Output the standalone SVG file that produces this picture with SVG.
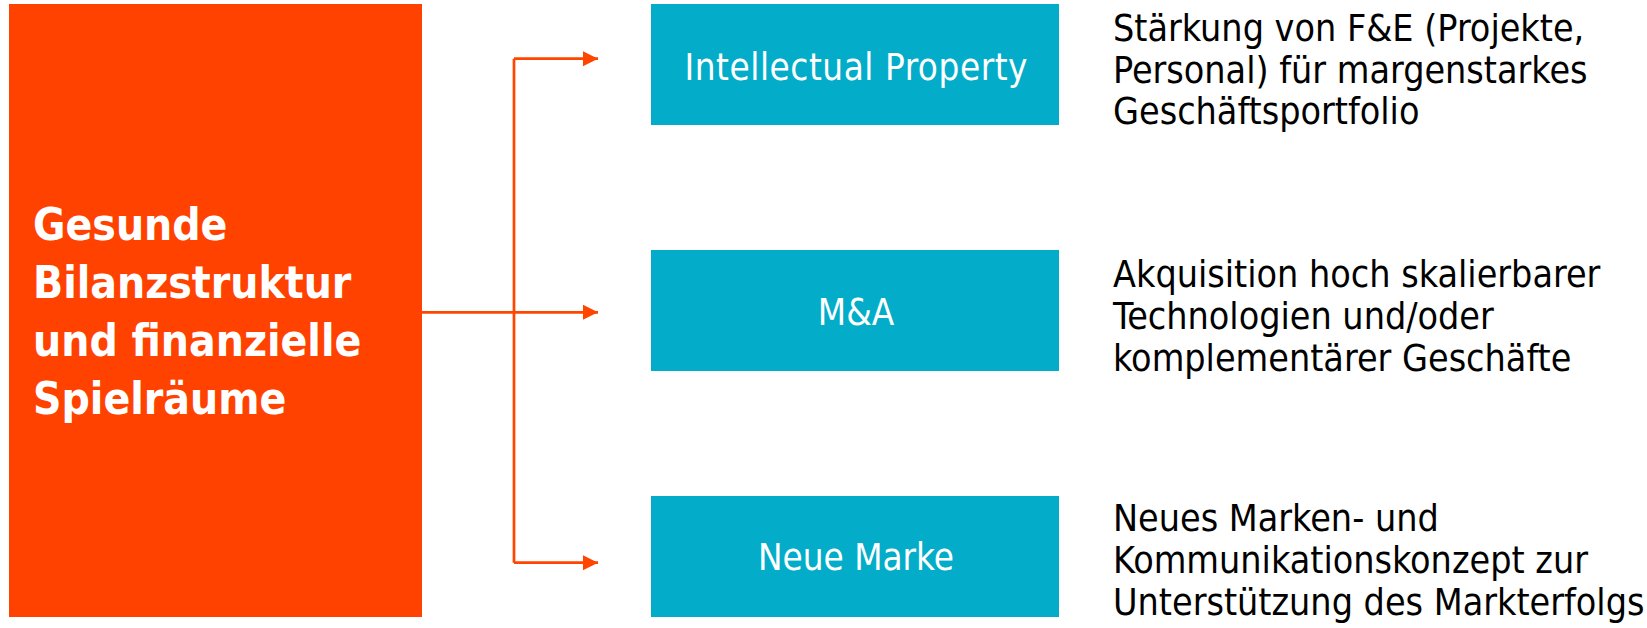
<svg xmlns="http://www.w3.org/2000/svg" width="1647" height="628" viewBox="0 0 1647 628">
<style>
.main{fill:#FF4200}
.box{fill:#03ADC9}
.mtext{font-family:"DejaVu Sans Condensed","DejaVu Sans",sans-serif;font-stretch:condensed;font-weight:bold;font-size:44px;fill:#FFFFFF}
.btext{font-family:"DejaVu Sans Condensed","DejaVu Sans",sans-serif;font-stretch:condensed;font-size:36.5px;fill:#FFFFFF;text-anchor:middle}
.desc{font-family:"DejaVu Sans Condensed","DejaVu Sans",sans-serif;font-stretch:condensed;font-size:37.3px;fill:#000000}
.conn{fill:none;stroke:#FF4500;stroke-width:2.7}
</style>
<defs>
<marker id="arr" markerUnits="userSpaceOnUse" markerWidth="16" markerHeight="16" refX="15" refY="8" orient="auto">
<path d="M0,0.5 L15,8 L0,15.5 Z" fill="#FF4500"/>
</marker>
</defs>
<g id="node-main">
<rect class="main" x="9" y="4" width="413" height="613"/>
<text class="mtext"><tspan x="33" y="240">Gesunde</tspan><tspan x="33" y="298">Bilanzstruktur</tspan><tspan x="33" y="356">und finanzielle</tspan><tspan x="33" y="414">Spielräume</tspan></text>
</g>
<g id="connectors">
<path class="conn" d="M514,58.7 V562.7"/>
<path class="conn" d="M514,58.7 H598" marker-end="url(#arr)"/>
<path class="conn" d="M422,312.3 H598" marker-end="url(#arr)"/>
<path class="conn" d="M514,562.7 H598" marker-end="url(#arr)"/>
</g>
<g id="node-ip">
<rect class="box" x="651" y="4" width="408" height="121"/>
<text class="btext" x="856" y="80" textLength="343" lengthAdjust="spacing">Intellectual Property</text>
</g>
<g id="node-ma">
<rect class="box" x="651" y="250" width="408" height="121"/>
<text class="btext" x="856" y="325">M&amp;A</text>
</g>
<g id="node-marke">
<rect class="box" x="651" y="496" width="408" height="121"/>
<text class="btext" x="856" y="570">Neue Marke</text>
</g>
<g id="desc-ip">
<text class="desc"><tspan x="1113" y="41">Stärkung von F&amp;E (Projekte,</tspan><tspan x="1113" y="82.5">Personal) für margenstarkes</tspan><tspan x="1113" y="124">Geschäftsportfolio</tspan></text>
</g>
<g id="desc-ma">
<text class="desc"><tspan x="1113" y="287">Akquisition hoch skalierbarer</tspan><tspan x="1113" y="329">Technologien und/oder</tspan><tspan x="1113" y="371">komplementärer Geschäfte</tspan></text>
</g>
<g id="desc-marke">
<text class="desc"><tspan x="1113" y="531">Neues Marken- und</tspan><tspan x="1113" y="573">Kommunikationskonzept zur</tspan><tspan x="1113" y="615">Unterstützung des Markterfolgs</tspan></text>
</g>
</svg>
